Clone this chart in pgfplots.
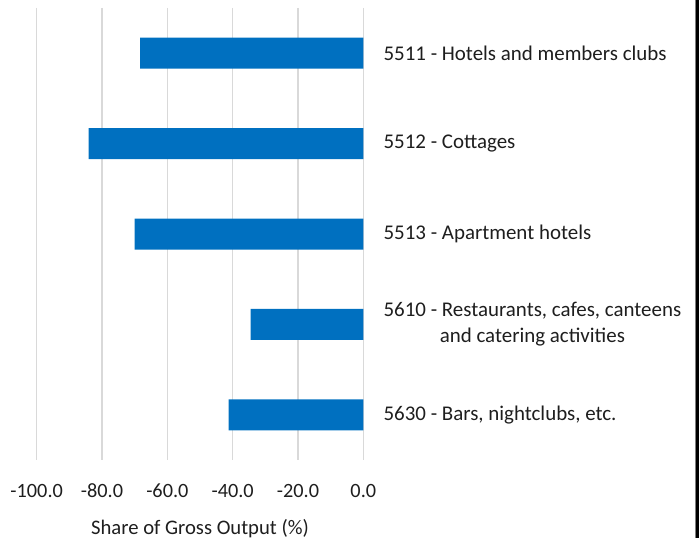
\documentclass[border=0pt]{standalone}
\usepackage{pgfplots}
\pgfplotsset{compat=1.18}
\usepackage{fontspec}
\setmainfont{Carlito}
\definecolor{barblue}{HTML}{0070C0}
\definecolor{gridgray}{HTML}{D9D9D9}
\definecolor{txt}{HTML}{1E1E1E}
\begin{document}
\begin{tikzpicture}
\useasboundingbox (0,0) rectangle (524.25pt,403.5pt);
\begin{axis}[
  at={(27.525pt,58.5pt)}, anchor=south west,
  scale only axis, width=244.95pt, height=339pt,
  xmin=-100, xmax=0, ymin=-0.5, ymax=4.5, y dir=reverse,
  axis line style={draw=none},
  xbar, bar width=23.25pt,
  xtick={-100,-80,-60,-40,-20,0},
  xmajorgrids, grid style={gridgray, line width=0.9pt},
  ytick={0,1,2,3,4},
  yticklabels={5511 - Hotels and members clubs, 5512 - Cottages, 5513 - Apartment hotels,
    {\begin{tabular}{@{}c@{}}5610 - Restaurants{,} cafes{,} canteens\\[1.5pt] and catering activities\end{tabular}},
    {5630 - Bars, nightclubs, etc.}},
  yticklabel pos=right,
  yticklabel style={anchor=west, inner sep=0pt, xshift=15pt, font=\fontsize{15.7}{18}\selectfont, text=txt},
  xticklabel style={anchor=base, inner sep=0pt, yshift=-28pt, font=\fontsize{15.2}{18}\selectfont, text=txt},
  /pgf/number format/assume math mode=true,
  xticklabel={\pgfmathprintnumber[fixed, fixed zerofill, precision=1]{\tick}},
  major tick length=0pt, tick style={draw=none},
  xlabel={Share of Gross Output (\%)},
  xlabel style={at={(axis description cs:0.5,0)}, anchor=base, inner sep=0pt, yshift=-55.5pt, font=\fontsize{15.5}{18}\selectfont, text=txt},
  clip=false,
]
\addplot[fill=barblue, draw=none] coordinates {(-68.3,0) (-84.1,1) (-70.0,2) (-34.5,3) (-41.2,4)};
\end{axis}
\fill[black] (522pt,0) rectangle (524.25pt,403.5pt);
\draw[gray, line width=0.6pt] (521.5pt,0) -- (521.5pt,403.5pt);
\end{tikzpicture}
\end{document}
